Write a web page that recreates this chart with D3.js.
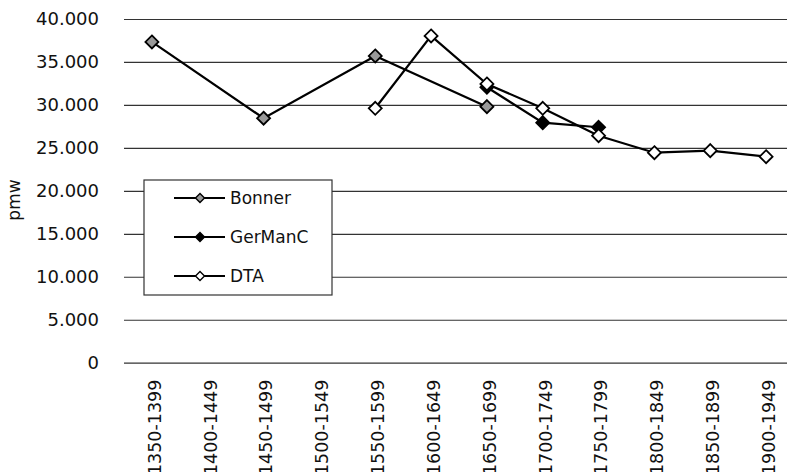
<!DOCTYPE html>
<html>
<head>
<meta charset="utf-8">
<script src="https://cdn.jsdelivr.net/npm/d3@7"></script>
<style>
  body { margin: 0; background: #fff; }
  text { font-family: "DejaVu Sans", sans-serif; fill: #111; }
</style>
</head>
<body>
<div id="chart"></div>
<script>
const periods = ["1350-1399", "1400-1449", "1450-1499", "1500-1549", "1550-1599", "1600-1649",
                 "1650-1699", "1700-1749", "1750-1799", "1800-1849", "1850-1899", "1900-1949"];
// null = no value for that period
const bonner   = [37330, null, 28450, null, 35700, null, 29800, null, null, null, null, null];
const germanc  = [null, null, null, null, null, null, 32060, 27940, 27400, null, null, null];
const dta      = [null, null, null, null, 29610, 38030, 32440, 29610, 26420, 24440, 24680, 23980];
const yTicks   = [0, 5000, 10000, 15000, 20000, 25000, 30000, 35000, 40000];

const series = [
  {name: "Bonner", values: bonner, fill: "#999"},
  {name: "GerManC", values: germanc, fill: "#000"},
  {name: "DTA", values: dta, fill: "#fff"}
];

const width = 787, height = 472;
const svg = d3.select("#chart").append("svg")
  .attr("width", width).attr("height", height);

const x = d3.scaleBand().domain(periods).range([124, 794]).padding(0);
const cx = d => x(d) + x.bandwidth() / 2;
const y = d3.scaleLinear().domain([0, 40000]).range([362.7, 19]);

const de = d3.formatLocale({decimal: ",", thousands: ".", grouping: [3], currency: ["", "€"]});
const fmt = de.format(",.0f");

// gridlines + y labels
const yAxis = svg.append("g")
  .attr("transform", "translate(124,0)")
  .call(d3.axisLeft(y).tickValues(yTicks).tickFormat(fmt).tickSize(-(width - 124)).tickPadding(25));
yAxis.select(".domain").remove();
yAxis.selectAll(".tick line").attr("stroke", "#333").attr("stroke-width", 1.2);
yAxis.selectAll(".tick text").style("font-size", "18px").attr("x", -25);

// x labels (rotated)
const xAxis = svg.append("g")
  .attr("transform", "translate(0,362.7)")
  .call(d3.axisBottom(x).tickSize(0).tickPadding(0));
xAxis.select(".domain").remove();
xAxis.selectAll(".tick text")
  .style("font-size", "17.5px")
  .attr("text-anchor", "end")
  .attr("transform", "rotate(-90)")
  .attr("x", -17)
  .attr("y", 0)
  .attr("dy", "0.5em");

svg.append("text")
  .attr("transform", "translate(20,200) rotate(-90)")
  .attr("text-anchor", "middle")
  .style("font-size", "17px")
  .text("pmw");

const diamond = r => `M0,${-r}L${r},0L0,${r}L${-r},0Z`;

const line = d3.line()
  .defined(d => d[1] != null)
  .x(d => cx(d[0]))
  .y(d => y(d[1]));

series.forEach(s => {
  const pts = periods.map((p, i) => [p, s.values[i]]).filter(d => d[1] != null);
  svg.append("path")
    .datum(pts)
    .attr("fill", "none")
    .attr("stroke", "#000")
    .attr("stroke-width", 2.2)
    .attr("d", line);
  svg.append("g").selectAll("path")
    .data(pts)
    .join("path")
    .attr("transform", d => `translate(${cx(d[0])},${y(d[1])})`)
    .attr("d", diamond(6.5))
    .attr("fill", s.fill)
    .attr("stroke", "#000")
    .attr("stroke-width", 1.8);
});

// legend
const lg = svg.append("g").attr("transform", "translate(144,180)");
lg.append("rect")
  .attr("width", 188).attr("height", 115)
  .attr("fill", "#fff").attr("stroke", "#333").attr("stroke-width", 1.2);
series.forEach((s, i) => {
  const g = lg.append("g").attr("transform", `translate(0,${18 + i * 39})`);
  g.append("line").attr("x1", 30).attr("x2", 81).attr("stroke", "#000").attr("stroke-width", 2.2);
  g.append("path").attr("transform", "translate(56,0)").attr("d", diamond(4.5))
    .attr("fill", s.fill).attr("stroke", "#000").attr("stroke-width", 1.4);
  g.append("text").attr("x", 86).attr("dy", "0.35em").style("font-size", "17px").text(s.name);
});
</script>
</body>
</html>
